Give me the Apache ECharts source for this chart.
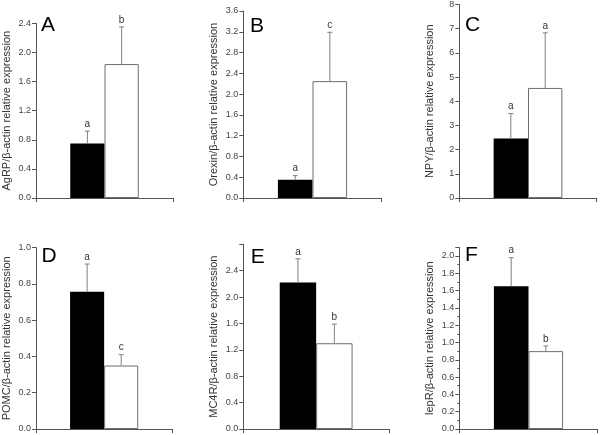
<!DOCTYPE html>
<html>
<head>
<meta charset="utf-8">
<script src="https://cdn.jsdelivr.net/npm/echarts@6/dist/echarts.min.js"></script>
<style>
html,body{margin:0;padding:0;background:#fff;}
#chart{width:600px;height:435px;}
</style>
</head>
<body>
<div id="chart"></div>
<script>
// ---- data ----
const panelLetters = ['A', 'B', 'C', 'D', 'E', 'F'];
const yAxisNames = [
  'AgRP/β-actin relative expression',
  'Orexin/β-actin relative expression',
  'NPY/β-actin relative expression',
  'POMC/β-actin relative expression',
  'MC4R/β-actin relative expression',
  'lepR/β-actin relative expression'
];
const categories = ['', 'black', 'white', ''];
const blackMeans = [0.75, 0.35, 2.46, 0.757, 2.22, 1.65];
const blackSD    = [0.17, 0.08, 1.03, 0.153, 0.36, 0.33];
const whiteMeans = [1.84, 2.25, 4.55, 0.35, 1.30, 0.90];
const whiteSD    = [0.51, 0.94, 2.28, 0.06, 0.29, 0.06];
const blackLetters = ['a', 'a', 'a', 'a', 'a', 'a'];
const whiteLetters = ['b', 'c', 'a', 'c', 'b', 'b'];
const yMax = [2.4, 3.6, 8, 1.0, 2.8, 2.1];
const yStep = [0.4, 0.4, 1, 0.2, 0.4, 0.2];
const yLabelTop = [2.4, 3.6, 8, 1.0, 2.4, 2.0];
const yDecimals = [1, 1, 0, 1, 1, 1];
const yMinor = [false, false, false, false, false, true];

// ---- layout (pixels) ----
const grids = [
  {left: 35.7, right: 173, top: 23.3, bottom: 198},
  {left: 243.3, right: 381.7, top: 11, bottom: 198},
  {left: 459.3, right: 596.7, top: 4, bottom: 198},
  {left: 35.7, right: 172.3, top: 247.7, bottom: 429},
  {left: 243.3, right: 389, top: 244.3, bottom: 429},
  {left: 459.3, right: 597.7, top: 247.3, bottom: 429}
];
const letterPos = [
  [41, 15], [250, 15.5], [465, 15], [41.5, 246], [250.7, 247], [465, 245]
];

const FONT = 'Liberation Sans, Arial, sans-serif';
const AXIS_COLOR = '#555';
const ERR_COLOR = '#808080';

const option = {
  animation: false,
  backgroundColor: '#fff',
  textStyle: {fontFamily: FONT},
  title: [], grid: [], xAxis: [], yAxis: [], series: []
};

panelLetters.forEach((L, i) => {
  const g = grids[i];
  option.grid.push({
    left: g.left, top: g.top,
    width: g.right - g.left, height: g.bottom - g.top,
    containLabel: false
  });
  option.title.push({
    text: L, left: letterPos[i][0], top: letterPos[i][1], padding: 0,
    textStyle: {fontFamily: FONT, fontSize: 21, fontWeight: 'normal', color: '#000'}
  });
  option.xAxis.push({
    type: 'category', gridIndex: i, data: categories,
    boundaryGap: true,
    axisLine: {show: true, lineStyle: {color: AXIS_COLOR, width: 1}},
    axisTick: {show: true, length: 4, interval: (idx) => idx === 3, lineStyle: {color: AXIS_COLOR}},
    axisLabel: {show: false},
    splitLine: {show: false}
  });
  const dec = yDecimals[i];
  const step = yStep[i];
  const top = yLabelTop[i];
  option.yAxis.push({
    type: 'value', gridIndex: i, min: 0, max: yMax[i], interval: step,
    name: yAxisNames[i], nameLocation: 'middle', nameGap: 24,
    nameTextStyle: {fontFamily: FONT, fontSize: 11, color: '#333'},
    axisLine: {show: true, lineStyle: {color: AXIS_COLOR, width: 1}},
    axisTick: {show: true, length: 4, lineStyle: {color: AXIS_COLOR}},
    minorTick: {show: yMinor[i], splitNumber: 2, length: 2, lineStyle: {color: AXIS_COLOR}},
    axisLabel: {
      fontFamily: FONT, fontSize: 9, color: '#444', margin: 5,
      formatter: (v) => {
        if (v > top + 1e-9) return '';
        const k = Math.round(v / step);
        if (Math.abs(k * step - v) > 1e-6) return '';
        return v.toFixed(dec);
      }
    },
    splitLine: {show: false}
  });
  option.series.push({
    type: 'bar', xAxisIndex: i, yAxisIndex: i,
    barWidth: '100%', barCategoryGap: '0%',
    data: [
      '-',
      {value: blackMeans[i], itemStyle: {color: '#000', borderColor: '#000', borderWidth: 0}},
      {value: whiteMeans[i], itemStyle: {color: '#fff', borderColor: '#6e6e6e', borderWidth: 1}},
      '-'
    ],
    z: 2
  });
  const letters = [blackLetters[i], whiteLetters[i]];
  option.series.push({
    type: 'custom', xAxisIndex: i, yAxisIndex: i, z: 3,
    data: [
      [1, blackMeans[i], blackMeans[i] + blackSD[i]],
      [2, whiteMeans[i], whiteMeans[i] + whiteSD[i]]
    ],
    renderItem: (params, api) => {
      const x = api.value(0), m = api.value(1), u = api.value(2);
      const p0 = api.coord([x, m]);
      const p1 = api.coord([x, u]);
      const w = 2.5;
      return {
        type: 'group',
        children: [
          {type: 'line', shape: {x1: p0[0], y1: p0[1], x2: p1[0], y2: p1[1]},
           style: {stroke: ERR_COLOR, lineWidth: 1}},
          {type: 'line', shape: {x1: p1[0] - w, y1: p1[1], x2: p1[0] + w, y2: p1[1]},
           style: {stroke: ERR_COLOR, lineWidth: 1}},
          {type: 'text', x: p1[0], y: p1[1] - 2,
           style: {text: letters[params.dataIndex], align: 'center', verticalAlign: 'bottom',
                   fontFamily: FONT, fontSize: 10, fill: '#333'}}
        ]
      };
    }
  });
});

const chart = echarts.init(document.getElementById('chart'), null, {renderer: 'canvas'});
chart.setOption(option);
</script>
</body>
</html>
